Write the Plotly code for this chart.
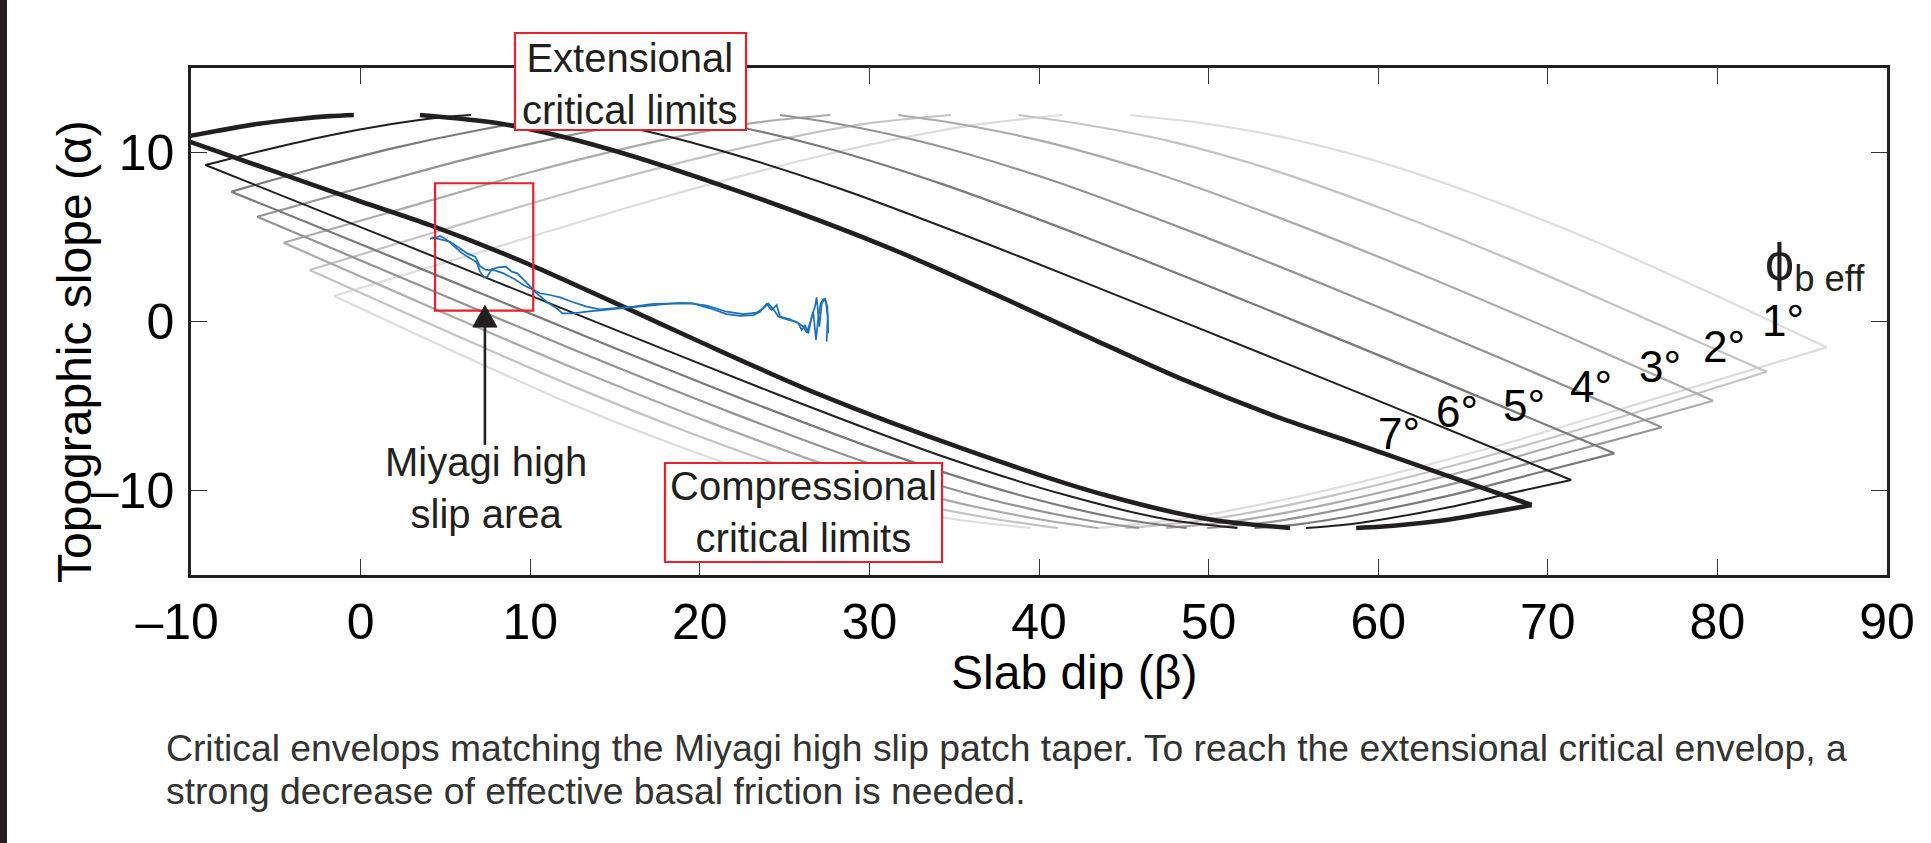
import plotly.graph_objects as go

# ---------------- data ----------------
phi_labels = ["1°", "2°", "3°", "4°", "5°", "6°", "7°"]
x_ticks = [-10, 0, 10, 20, 30, 40, 50, 60, 70, 80, 90]
x_ticktext = ["–10<span style='color:white'>–</span>", "0", "10", "20", "30", "40", "50", "60", "70", "80", "90"]
y_ticks = [-10, 0, 10]
y_ticktext = ["–10", "0", "10"]

# critical envelopes (slab dip beta, topographic slope alpha); sides separated by None
beta_1 = [-1.57, 8, 18, 28, 36, 41.4, None, -1.57, 5, 12, 18, 24, 30, 35, 39.5, None,
          45.38, 49.88, 54.88, 60.88, 66.88, 72.88, 79.88, 86.45, None, 86.45, 76.88, 66.88, 56.88, 48.88, 43.48]
alpha_1 = [1.51, 4.4, 7.4, 10.0, 11.6, 12.22, None, 1.51, -1.55, -4.7, -7.1, -9.2, -10.8, -11.7, -12.22, None,
           12.22, 11.7, 10.8, 9.2, 7.1, 4.7, 1.55, -1.53, None, -1.53, -4.4, -7.4, -10.0, -11.6, -12.22]

beta_2 = [-3.01, 5.25, 14, 22.75, 29.7, 34.8, None, -3.01, 4.5, 12.33, 19.33, 26, 32.33, 37.5, 41.1, None,
          38.8, 42.4, 47.57, 53.9, 60.57, 67.57, 75.4, 82.9, None, 82.9, 74.65, 65.9, 57.15, 50.2, 45.1]
alpha_2 = [3.05, 5.55, 8.12, 10.33, 11.69, 12.22, None, 3.05, -0.33, -3.75, -6.55, -8.93, -10.7, -11.7, -12.22, None,
           12.22, 11.7, 10.7, 8.93, 6.55, 3.75, 0.33, -2.97, None, -2.97, -5.55, -8.12, -10.33, -11.69, -12.22]

beta_3 = [-4.54, 2.5, 10, 17.5, 23.4, 27.7, None, -4.54, 4.0, 12.67, 20.67, 28, 34.67, 40, 43.5, None,
          31.7, 35.2, 40.53, 47.2, 54.53, 62.53, 71.2, 79.75, None, 79.75, 72.7, 65.2, 57.7, 51.8, 47.5]
alpha_3 = [4.66, 6.69, 8.83, 10.67, 11.78, 12.22, None, 4.66, 0.9, -2.8, -6.0, -8.67, -10.6, -11.7, -12.22, None,
           12.22, 11.7, 10.6, 8.67, 6.0, 2.8, -0.9, -4.69, None, -4.69, -6.69, -8.83, -10.67, -11.78, -12.22]

beta_4 = [-6.1, -0.25, 6, 12.25, 17.1, 20.7, None, -6.1, 3.5, 13, 22, 30, 37, 42.5, 45.9, None,
          24.72, 28.12, 33.62, 40.62, 48.62, 57.62, 67.12, 76.72, None, 76.72, 70.87, 64.62, 58.37, 53.52, 49.92]
alpha_4 = [6.2, 7.84, 9.55, 11.0, 11.88, 12.22, None, 6.2, 2.13, -1.85, -5.45, -8.4, -10.5, -11.7, -12.22, None,
           12.22, 11.7, 10.5, 8.4, 5.45, 1.85, -2.13, -6.26, None, -6.26, -7.84, -9.55, -11.0, -11.88, -12.22]

beta_5 = [-7.62, -3, 2, 7, 10.8, 13.6, None, -7.62, 3.0, 13.33, 23.33, 32, 39.33, 45, 48.7, None,
          17.6, 21.3, 26.97, 34.3, 42.97, 52.97, 63.3, 73.92, None, 73.92, 69.3, 64.3, 59.3, 55.5, 52.7]
alpha_5 = [7.68, 8.98, 10.27, 11.33, 11.97, 12.22, None, 7.68, 3.35, -0.9, -4.9, -8.13, -10.4, -11.7, -12.22, None,
           12.22, 11.7, 10.4, 8.13, 4.9, 0.9, -3.35, -7.8, None, -7.8, -8.98, -10.27, -11.33, -11.97, -12.22]

beta_6 = [-9.15, -5.75, -2, 1.75, 4.5, 6.5, None, -9.15, 2.5, 13.67, 24.67, 34, 41.67, 47.5, 51.7, None,
          10.54, 14.74, 20.57, 28.24, 37.57, 48.57, 59.74, 71.38, None, 71.38, 67.99, 64.24, 60.49, 57.74, 55.74]
alpha_6 = [9.26, 10.12, 10.98, 11.67, 12.06, 12.22, None, 9.26, 4.58, 0.05, -4.35, -7.87, -10.3, -11.7, -12.22, None,
           12.22, 11.7, 10.3, 7.87, 4.35, -0.05, -4.58, -9.38, None, -9.38, -10.12, -10.98, -11.67, -12.06, -12.22]

beta_7 = [-10.7, -8.5, -6, -3.5, -1.8, -0.4, None,
          -10.7, -5, 0, 4.1, 9.9, 15, 20, 27, 36, 44, 50, 54.8, None,
          3.5, 8.3, 14.3, 22.3, 31.3, 38.3, 43.3, 48.4, 54.2, 58.3, 63.3, 69.05, None,
          69.05, 66.8, 64.3, 61.8, 60.1, 58.7]
alpha_7 = [10.86, 11.27, 11.7, 12.0, 12.15, 12.22, None,
           10.86, 8.85, 7.1, 5.7, 3.4, 1.1, -1.2, -4.3, -7.7, -10.3, -11.7, -12.22, None,
           12.22, 11.7, 10.3, 7.7, 4.3, 1.2, -1.1, -3.4, -5.7, -7.1, -8.85, -10.86, None,
           -10.86, -11.27, -11.7, -12.0, -12.15, -12.22]

# Miyagi taper profiles
miyagi_beta_a = [4.09, 4.39, 4.68, 4.98, 5.37, 5.86, 6.29, 6.65, 6.84, 7.04, 7.28, 7.47, 7.73, 8.12, 8.57, 8.91,
                 9.24, 9.60, 9.95, 10.38, 10.97, 11.56, 11.91, 12.54, 13.33, 14.51, 15.69, 16.87, 18.05, 18.83,
                 19.62, 20.60, 21.58, 22.37, 23.16, 23.55, 23.94, 24.24, 24.53, 24.73, 25.32, 25.81, 26.01, 26.20,
                 26.40, 26.60, 26.79, 26.89, 27.05, 27.19, 27.38, 27.52, 27.58]
miyagi_alpha_a = [4.90, 4.94, 5.06, 4.90, 4.59, 4.13, 3.84, 3.64, 3.52, 2.95, 2.61, 2.65, 3.09, 3.20, 3.24, 2.95,
                  2.85, 2.49, 2.10, 1.67, 1.17, 0.78, 0.48, 0.48, 0.58, 0.68, 0.80, 0.92, 1.04, 1.11,
                  1.07, 0.78, 0.44, 0.33, 0.38, 0.58, 1.04, 0.68, 0.98, 0.29, 0.13, -0.11, -0.50, -0.21,
                  -0.70, 0.29, 0.88, 1.43, -0.31, 1.07, 1.37, 0.88, -0.70]
miyagi_beta_b = [4.19, 4.58, 4.88, 5.27, 5.76, 6.29, 6.75, 7.04, 7.39, 7.83, 8.42, 9.01, 9.60, 10.09, 10.58, 11.17,
                 11.76, 12.45, 13.33, 14.12, 14.90, 16.08, 17.26, 18.44, 19.42, 20.41, 21.58, 22.57, 23.35, 23.75,
                 24.04, 24.34, 24.63, 25.22, 25.71, 26.11, 26.30, 26.50, 26.69, 26.85, 26.99, 27.13, 27.28, 27.44,
                 27.54, 27.48]
miyagi_alpha_b = [4.98, 4.90, 4.82, 4.72, 4.39, 4.03, 3.84, 3.28, 3.05, 3.05, 2.85, 2.55, 2.16, 1.90, 1.67, 1.57,
                  1.43, 1.17, 0.88, 0.72, 0.78, 0.88, 1.04, 1.07, 1.07, 0.94, 0.58, 0.44, 0.52, 0.78,
                  1.07, 0.72, 0.29, 0.09, -0.01, -0.31, -0.66, -0.11, 0.58, -1.09, 0.29, 1.07, 1.31, 1.17,
                  0.29, -1.19]

# ---------------- figure ----------------
FONT = "Liberation Sans, Arial, Helvetica, sans-serif"
INK = "#231f20"
RED = "#e8202a"

W, H = 1931, 843
L, R, T, B = 191, 1887, 68, 575


def px(xp):
    return (xp - L) / (R - L)


def py(yp):
    return (B - yp) / (B - T)


fig = go.Figure()

curves = [(beta_1, alpha_1), (beta_2, alpha_2), (beta_3, alpha_3), (beta_4, alpha_4),
          (beta_5, alpha_5), (beta_6, alpha_6), (beta_7, alpha_7)]
colors = ["#dcdcdc", "#c3c3c3", "#ababab", "#939393", "#7a7a7a", INK, INK]
widths = [2.2, 2.2, 2.2, 2.2, 2.2, 2.0, 4.6]

for (b, a), c, w, lab in zip(curves, colors, widths, phi_labels):
    fig.add_trace(go.Scatter(x=b, y=a, mode="lines", name=lab,
                             line=dict(color=c, width=w, shape="spline", smoothing=0.8),
                             connectgaps=False, hoverinfo="skip"))

for bb, aa in [(miyagi_beta_a, miyagi_alpha_a), (miyagi_beta_b, miyagi_alpha_b)]:
    fig.add_trace(go.Scatter(x=bb, y=aa, mode="lines", line=dict(color="#1b6fbf", width=1.7),
                             hoverinfo="skip"))

shapes = [
    # dark strip on the left edge of the page
    dict(type="rect", xref="paper", yref="paper", x0=px(0), x1=px(7), y0=py(H), y1=py(0),
         fillcolor=INK, line=dict(width=0), layer="above"),
    # Miyagi high slip box
    dict(type="rect", xref="x", yref="y", x0=4.39, x1=10.18, y0=0.64, y1=8.18,
         line=dict(color=RED, width=2.2), layer="above"),
    # Extensional box
    dict(type="rect", xref="paper", yref="paper", x0=px(515), x1=px(746), y0=py(130), y1=py(33),
         fillcolor="white", line=dict(color=RED, width=2.2), layer="above"),
    # Compressional box
    dict(type="rect", xref="paper", yref="paper", x0=px(665), x1=px(942), y0=py(562), y1=py(463),
         fillcolor="white", line=dict(color=RED, width=2.2), layer="above"),
    # arrow shaft and head
    dict(type="line", xref="x", yref="y", x0=7.33, x1=7.33, y0=-7.3, y1=-0.1,
         line=dict(color=INK, width=2.6), layer="above"),
    dict(type="path", xref="x", yref="y", path="M 7.33 0.95 L 6.62 -0.33 L 8.04 -0.33 Z",
         fillcolor=INK, line=dict(color=INK, width=1), layer="above"),
]

ann = []
ann.append(dict(xref="paper", yref="paper", x=px(630), y=py(84), text="Extensional<br>critical limits",
                showarrow=False, font=dict(family=FONT, size=40, color=INK), xanchor="center", yanchor="middle"))
ann.append(dict(xref="paper", yref="paper", x=px(803), y=py(512), text="Compressional<br>critical limits",
                showarrow=False, font=dict(family=FONT, size=40, color=INK), xanchor="center", yanchor="middle"))
ann.append(dict(xref="paper", yref="paper", x=px(486), y=py(488), text="Miyagi high<br>slip area",
                showarrow=False, font=dict(family=FONT, size=40, color=INK), xanchor="center", yanchor="middle"))
# degree labels
lab_pos = [(83.87, 0.03), (80.39, -1.49), (76.6, -2.69), (72.54, -3.86), (68.6, -4.99), (64.65, -5.34), (61.23, -6.6)]
for (xx, yy), t in zip(lab_pos, phi_labels):
    ann.append(dict(xref="x", yref="y", x=xx, y=yy, text=t, showarrow=False,
                    font=dict(family=FONT, size=44, color="black"), xanchor="center", yanchor="middle"))
ann.append(dict(xref="x", yref="y", x=82.7, y=3.3, text="ϕ<sub>b eff</sub>", showarrow=False,
                font=dict(family=FONT, size=52, color=INK), xanchor="left", yanchor="middle"))
# axis titles
ann.append(dict(xref="paper", yref="paper", x=px(1074), y=py(672), text="Slab dip (β)", showarrow=False,
                font=dict(family=FONT, size=48, color="black"), xanchor="center", yanchor="middle"))
ann.append(dict(xref="paper", yref="paper", x=px(74), y=py(352), text="Topographic slope (α)", showarrow=False,
                textangle=-90, font=dict(family=FONT, size=48, color="black"), xanchor="center", yanchor="middle"))
# caption
ann.append(dict(xref="paper", yref="paper", x=px(164), y=py(748),
                text="Critical envelops matching the Miyagi high slip patch taper. To reach the extensional critical envelop, a",
                showarrow=False, font=dict(family=FONT, size=37.3, color="#333333"), xanchor="left", yanchor="middle"))
ann.append(dict(xref="paper", yref="paper", x=px(164), y=py(791),
                text="strong decrease of effective basal friction is needed.",
                showarrow=False, font=dict(family=FONT, size=37.3, color="#333333"), xanchor="left", yanchor="middle"))

fig.update_layout(
    width=W, height=H,
    margin=dict(l=L, r=W - R, t=T, b=H - B, pad=0),
    paper_bgcolor="white", plot_bgcolor="white",
    showlegend=False,
    shapes=shapes, annotations=ann,
    font=dict(family=FONT, color="black"),
)
fig.update_xaxes(range=[-10, 90], tickvals=x_ticks, ticktext=x_ticktext, ticks="inside", ticklen=16,
                 tickwidth=1.2, tickcolor="#333333", showline=True, linecolor=INK, linewidth=2.5,
                 mirror="allticks", showgrid=False, zeroline=False, ticklabelstandoff=1,
                 tickfont=dict(family=FONT, size=50, color="black"))
fig.update_yaxes(range=[-15, 15], tickvals=y_ticks, ticktext=y_ticktext, ticks="inside", ticklen=16,
                 tickwidth=1.2, tickcolor="#333333", showline=True, linecolor=INK, linewidth=2.5,
                 mirror="allticks", showgrid=False, zeroline=False, ticklabelstandoff=4,
                 tickfont=dict(family=FONT, size=50, color="black"))

fig.write_html("out.html", config={"displayModeBar": False},
               post_script="document.body.style.margin='0';document.body.style.overflow='hidden';")
